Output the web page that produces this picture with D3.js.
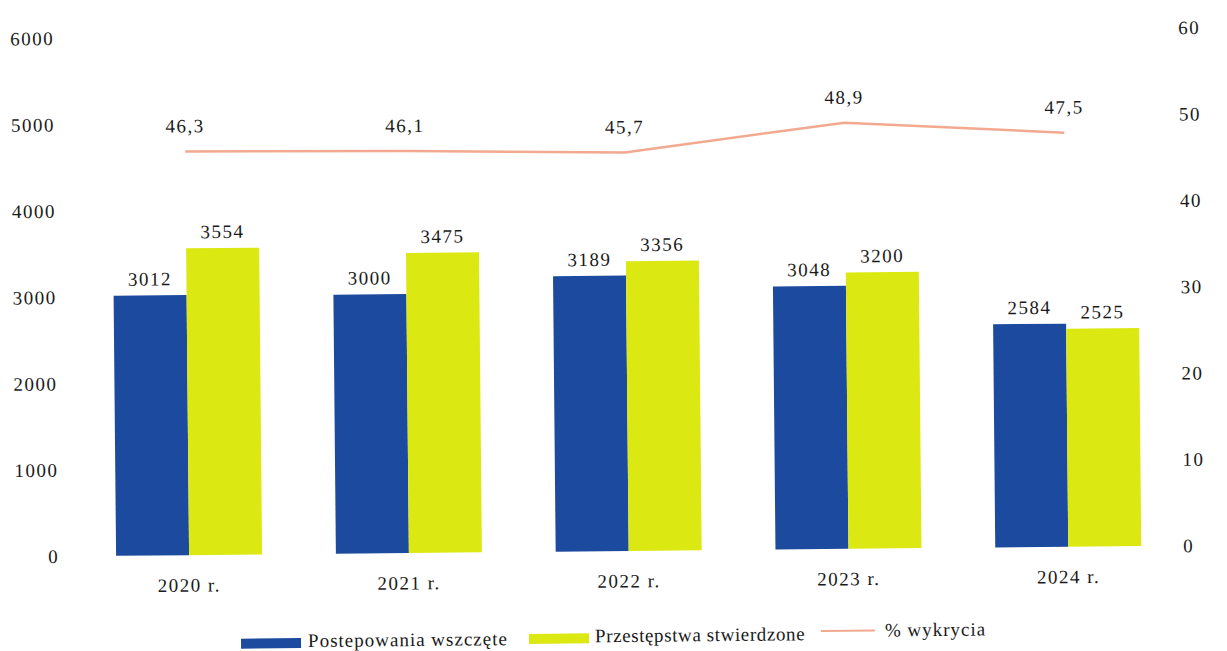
<!DOCTYPE html>
<html>
<head>
<meta charset="utf-8">
<script src="https://cdn.jsdelivr.net/npm/d3@7"></script>
<style>
  body { margin: 0; background: #fff; }
  text { font-family: "Liberation Serif", "Times New Roman", serif; fill: #1a1a1a; }
</style>
</head>
<body>
<script>
// Chart data
const years = ["2020 r.", "2021 r.", "2022 r.", "2023 r.", "2024 r."];
const wszczete = [3012, 3000, 3189, 3048, 2584];
const stwierdzone = [3554, 3475, 3356, 3200, 2525];
const wykrycie = [46.3, 46.1, 45.7, 48.9, 47.5];
const leftTicks = [0, 1000, 2000, 3000, 4000, 5000, 6000];
const rightTicks = [0, 10, 20, 30, 40, 50, 60];

const width = 1227, height = 651;
const blue = "#1b4a9e", yellow = "#dce811", salmon = "#f2a98f";
const fs = "19px", ls = "1.5px";

let svg = d3.select("body").append("svg")
    .attr("width", width)
    .attr("height", height);

// the scan is slightly tilted
let g = svg.append("g")
    .attr("transform", "rotate(-0.55, 620, 325)");

// Scales
const xScale = d3.scaleBand()
    .domain(years)
    .range([77, 1176]);

const xInner = d3.scaleBand()
    .domain(["w", "s"])
    .range([-73, 73]);

const yLeft = d3.scaleLinear()
    .domain([0, 6000])
    .range([551, 33]);

const yRight = d3.scaleLinear()
    .domain([0, 60])
    .range([551, 33]);

const cx = d => xScale(d) + xScale.bandwidth() / 2;

// Axes (labels only)
let leftAxis = g.append("g")
    .attr("transform", "translate(57,0)")
    .call(d3.axisLeft(yLeft).tickValues(leftTicks).tickFormat(d3.format("d")).tickSize(0).tickPadding(0));

let rightAxis = g.append("g")
    .attr("transform", "translate(1179,0)")
    .call(d3.axisRight(yRight).tickValues(rightTicks).tickSize(0).tickPadding(2));

let xAxis = g.append("g")
    .attr("transform", "translate(0,560)")
    .call(d3.axisBottom(xScale).tickSize(0).tickPadding(14));

[leftAxis, rightAxis, xAxis].forEach(a => {
  a.select(".domain").remove();
  a.selectAll("text")
    .style("font-family", "Liberation Serif, serif")
    .style("font-size", fs)
    .style("letter-spacing", ls)
    .attr("fill", "#1a1a1a");
});

// Bars
const rows = years.map((y, i) => ({ year: y, w: wszczete[i], s: stwierdzone[i], p: wykrycie[i] }));

let groups = g.selectAll(".grp")
    .data(rows)
    .enter()
    .append("g")
    .attr("transform", d => `translate(${cx(d.year)},0)`);

groups.append("rect")
    .attr("x", xInner("w"))
    .attr("y", d => yLeft(d.w))
    .attr("width", xInner.bandwidth())
    .attr("height", d => yLeft(0) - yLeft(d.w))
    .attr("fill", blue);

groups.append("rect")
    .attr("x", xInner("s"))
    .attr("y", d => yLeft(d.s))
    .attr("width", xInner.bandwidth())
    .attr("height", d => yLeft(0) - yLeft(d.s))
    .attr("fill", yellow);

groups.append("text")
    .attr("x", xInner("w") + xInner.bandwidth() / 2)
    .attr("y", d => yLeft(d.w) - 10)
    .attr("text-anchor", "middle")
    .style("font-size", fs)
    .style("letter-spacing", ls)
    .text(d => d.w);

groups.append("text")
    .attr("x", xInner("s") + xInner.bandwidth() / 2)
    .attr("y", d => yLeft(d.s) - 10)
    .attr("text-anchor", "middle")
    .style("font-size", fs)
    .style("letter-spacing", ls)
    .text(d => d.s);

// Line (drawn a little above its axis, as in the source)
const line = d3.line()
    .x(d => cx(d.year))
    .y(d => yRight(d.p) - 4);

g.append("path")
    .datum(rows)
    .attr("d", line)
    .attr("fill", "none")
    .attr("stroke", salmon)
    .attr("stroke-width", 2.5);

g.selectAll(".plab")
    .data(rows)
    .enter()
    .append("text")
    .attr("x", d => cx(d.year))
    .attr("y", d => yRight(d.p) - 23)
    .attr("text-anchor", "middle")
    .style("font-size", fs)
    .style("letter-spacing", ls)
    .text(d => d3.format(".1f")(d.p).replace(".", ","));

// Legend
let legend = g.append("g").attr("transform", "translate(0,639)");

legend.append("rect").attr("x", 238).attr("y", -4).attr("width", 60).attr("height", 10).attr("fill", blue);
legend.append("text").attr("x", 305).attr("y", 5).style("font-size", fs).style("letter-spacing", "1px").text("Postepowania wszczęte");

legend.append("rect").attr("x", 526).attr("y", -6).attr("width", 60).attr("height", 10).attr("fill", yellow);
legend.append("text").attr("x", 592).attr("y", 3).style("font-size", fs).style("letter-spacing", "0.6px").text("Przestępstwa stwierdzone");

legend.append("line").attr("x1", 818).attr("x2", 872).attr("y1", -6).attr("y2", -6)
    .attr("stroke", salmon).attr("stroke-width", 2);
legend.append("text").attr("x", 882).attr("y", 0).style("font-size", fs).style("letter-spacing", "1px").text("% wykrycia");
</script>
</body>
</html>
